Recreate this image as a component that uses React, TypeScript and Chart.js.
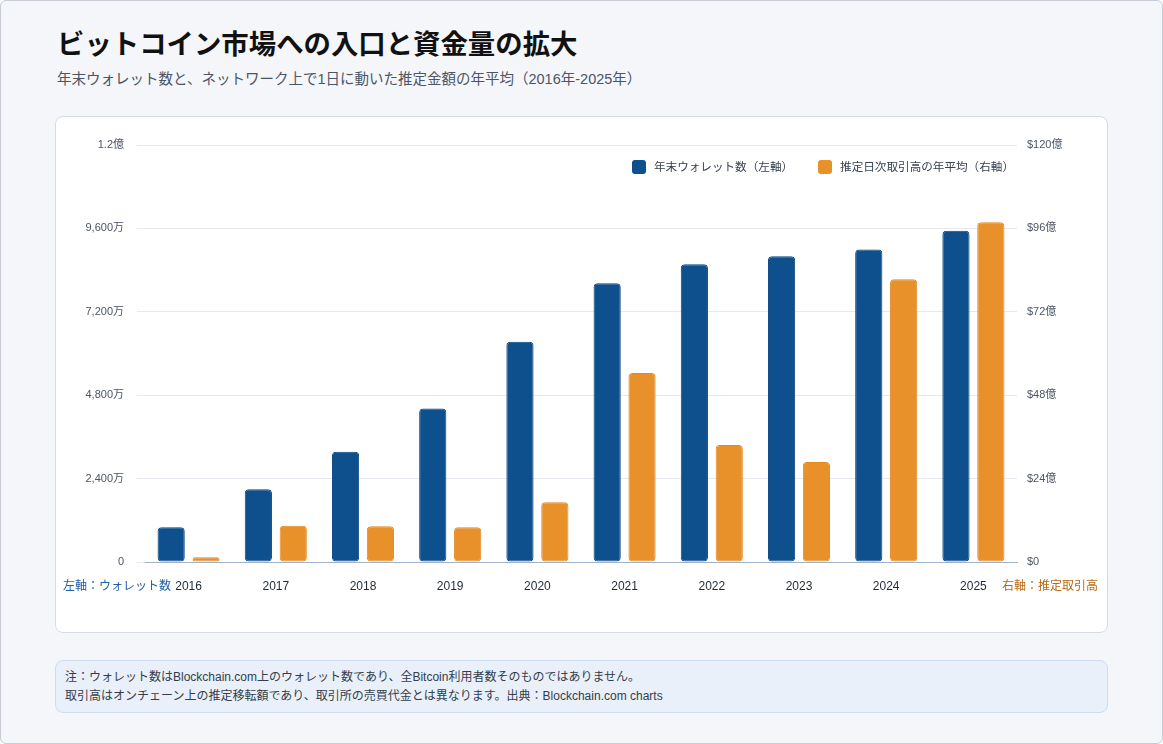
import React, { useEffect, useRef } from "react";
import { Chart, registerables } from "chart.js";

Chart.register(...registerables);

const years = ["2016", "2017", "2018", "2019", "2020", "2021", "2022", "2023", "2024", "2025"];
// 年末ウォレット数（万）
const wallets = [1000, 2090, 3170, 4420, 6340, 8020, 8570, 8800, 8990, 9530];
// 推定日次取引高の年平均（億ドル）
const volumes = [1.4, 10.4, 10.3, 10.0, 17.2, 54.4, 33.7, 28.8, 81.4, 97.8];

const walletLabel = "年末ウォレット数（左軸）";
const volumeLabel = "推定日次取引高の年平均（右軸）";

const BLUE = "#0e4f8d";
const ORANGE = "#e8912b";
const FONT = '"Liberation Sans", "Noto Sans CJK JP", sans-serif';

export default function App() {
  const ref = useRef<HTMLCanvasElement | null>(null);

  useEffect(() => {
    if (!ref.current) return;
    Chart.defaults.font.family = FONT;
    const chart = new Chart(ref.current, {
      type: "bar",
      data: {
        labels: years,
        datasets: [
          {
            label: walletLabel,
            data: wallets,
            backgroundColor: BLUE,
            borderColor: "#0a4580",
            borderWidth: 1,
            borderRadius: 4,
            borderSkipped: false,
            yAxisID: "y",
            categoryPercentage: 0.8,
            barPercentage: 0.78,
          },
          {
            label: volumeLabel,
            data: volumes,
            backgroundColor: ORANGE,
            borderColor: "#e28a24",
            borderWidth: 1,
            borderRadius: 4,
            borderSkipped: false,
            yAxisID: "y1",
            categoryPercentage: 0.8,
            barPercentage: 0.78,
          },
        ],
      },
      options: {
        animation: false,
        responsive: false,
        layout: { padding: { top: 28, left: 0, right: 0, bottom: 0 } },
        plugins: { legend: { display: false }, tooltip: { enabled: false } },
        scales: {
          x: {
            grid: { display: false, drawTicks: false },
            border: { display: true, color: "#a3b2cb", width: 1 },
            ticks: { color: "#1f2937", font: { size: 12 }, padding: 17 },
            afterFit: (s: any) => {
              s.height = 70;
            },
          },
          y: {
            position: "left",
            min: 0,
            max: 12000,
            ticks: {
              stepSize: 2400,
              color: "#4b5563",
              font: { size: 11 },
              padding: 13,
              callback: (v: any) => {
                const n = Number(v);
                if (n === 0) return "0";
                if (n >= 10000) return n / 10000 + "億";
                return n.toLocaleString("en-US") + "万";
              },
            },
            grid: { color: "#e6e9f0", drawTicks: true, tickLength: 8 },
            border: { display: false },
            afterFit: (s: any) => {
              s.width = 89;
            },
          },
          y1: {
            position: "right",
            min: 0,
            max: 120,
            ticks: {
              stepSize: 24,
              color: "#4b5563",
              font: { size: 11 },
              padding: 10,
              callback: (v: any) => {
                const n = Number(v);
                if (n === 0) return "$0";
                return "$" + n + "億";
              },
            },
            grid: { drawOnChartArea: false, drawTicks: false },
            border: { display: false },
            afterFit: (s: any) => {
              s.width = 90;
            },
          },
        },
      },
    });
    return () => chart.destroy();
  }, []);

  const sq = (c: string): React.CSSProperties => ({
    width: 14,
    height: 14,
    borderRadius: 3,
    background: c,
    display: "inline-block",
    marginRight: 8,
  });

  return (
    <div
      style={{
        position: "fixed",
        left: 0,
        top: 0,
        width: 1163,
        height: 744,
        boxSizing: "border-box",
        border: "1px solid #c7ccd5",
        borderRadius: 6,
        background: "#f4f6fa",
        fontFamily: FONT,
        overflow: "hidden",
      }}
    >
      <div
        style={{
          position: "absolute",
          left: 56,
          top: 27,
          fontSize: 27.4,
          fontWeight: 700,
          color: "#111111",
          lineHeight: "34px",
          whiteSpace: "nowrap",
        }}
      >
        ビットコイン市場への入口と資金量の拡大
      </div>
      <div
        style={{
          position: "absolute",
          left: 56,
          top: 69,
          fontSize: 14.5,
          color: "#4b5563",
          lineHeight: "18px",
          whiteSpace: "nowrap",
        }}
      >
        年末ウォレット数と、ネットワーク上で1日に動いた推定金額の年平均（2016年-2025年）
      </div>

      <div
        style={{
          position: "absolute",
          left: 54,
          top: 115,
          width: 1053,
          height: 517,
          boxSizing: "border-box",
          background: "#ffffff",
          border: "1px solid #d6dce6",
          borderRadius: 8,
        }}
      >
        <canvas ref={ref} width={1051} height={515} style={{ position: "absolute", left: 0, top: 0, width: 1051, height: 515 }} />
        <div
          style={{
            position: "absolute",
            right: 93,
            top: 43,
            display: "flex",
            alignItems: "center",
            fontSize: 11.6,
            color: "#374151",
            lineHeight: "14px",
            whiteSpace: "nowrap",
          }}
        >
          <span style={sq(BLUE)} />
          <span>{walletLabel}</span>
          <span style={{ ...sq(ORANGE), marginLeft: 25 }} />
          <span>{volumeLabel}</span>
        </div>
        <div
          style={{
            position: "absolute",
            left: 7,
            top: 462,
            fontSize: 12,
            lineHeight: "14px",
            color: "#1f5fa8",
            whiteSpace: "nowrap",
          }}
        >
          左軸：ウォレット数
        </div>
        <div
          style={{
            position: "absolute",
            right: 9,
            top: 462,
            fontSize: 12,
            lineHeight: "14px",
            color: "#b7680f",
            whiteSpace: "nowrap",
          }}
        >
          右軸：推定取引高
        </div>
      </div>

      <div
        style={{
          position: "absolute",
          left: 54,
          top: 659,
          width: 1053,
          height: 53,
          boxSizing: "border-box",
          background: "#e9f0f9",
          border: "1px solid #cddcef",
          borderRadius: 8,
          padding: "7px 9px",
          fontSize: 12,
          lineHeight: "19px",
          color: "#333d4b",
          whiteSpace: "nowrap",
        }}
      >
        <div>注：ウォレット数はBlockchain.com上のウォレット数であり、全Bitcoin利用者数そのものではありません。</div>
        <div>取引高はオンチェーン上の推定移転額であり、取引所の売買代金とは異なります。出典：Blockchain.com charts</div>
      </div>
    </div>
  );
}
